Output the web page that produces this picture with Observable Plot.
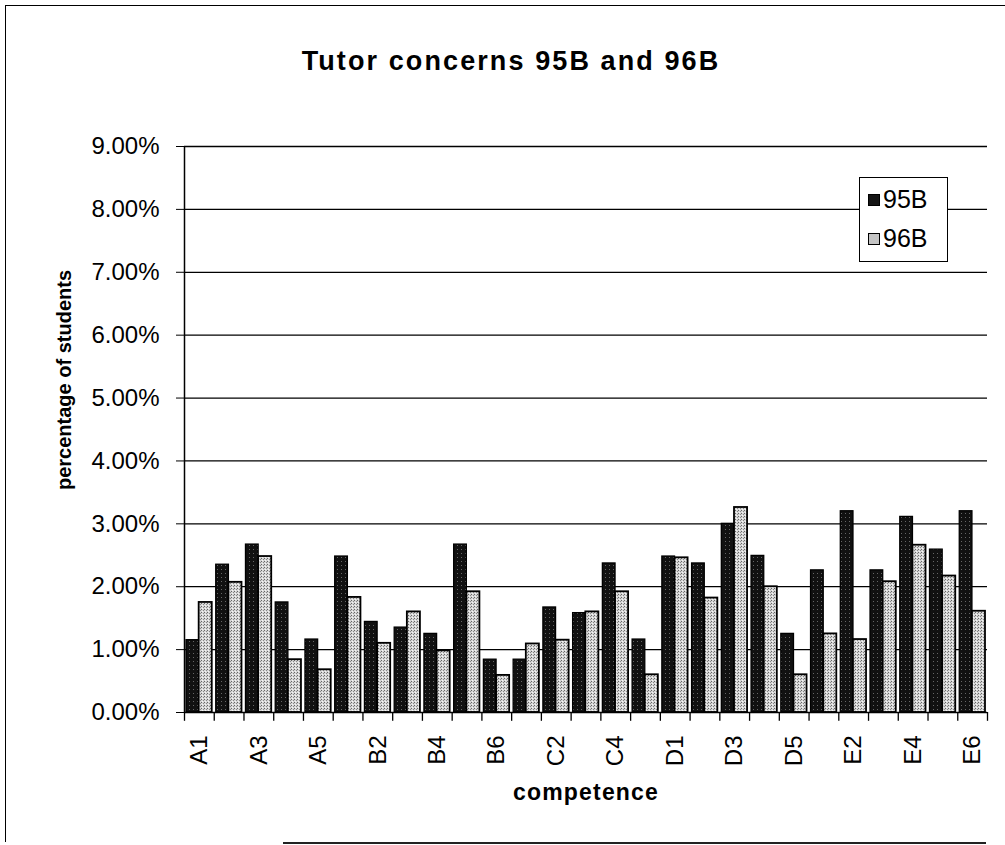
<!DOCTYPE html>
<html>
<head>
<meta charset="utf-8">
<script src="https://cdn.jsdelivr.net/npm/d3@7"></script>
<script src="https://cdn.jsdelivr.net/npm/@observablehq/plot@0.6"></script>
<style>
  html, body { margin: 0; padding: 0; background: #fff; }
  #wrap { position: relative; width: 1005px; height: 845px; overflow: hidden; font-family: "Liberation Sans", Arial, sans-serif; }
  #chart { position: absolute; left: 0; top: 0; }
  .abs { position: absolute; white-space: nowrap; color: #000; }
  #frame { position: absolute; left: 5px; top: 5px; width: 1010px; height: 836px; border-left: 1.5px solid #000; border-top: 1.5px solid #000; }
  #bottomline { position: absolute; left: 283px; top: 842px; width: 703px; height: 0; border-top: 2px solid #222; }
  #title { left: 0; width: 1022px; top: 46px; text-align: center; font-weight: bold; font-size: 27px; letter-spacing: 2.1px; }
  #ylab { left: 64px; top: 380px; transform: translate(-50%, -50%) rotate(-90deg); font-weight: bold; font-size: 20px; }
  #xlab { left: 586px; top: 779px; transform: translateX(-50%); font-weight: bold; font-size: 23px; letter-spacing: 1.2px; }
  #legend { position: absolute; left: 859px; top: 177px; width: 87px; height: 83px; border: 1.5px solid #000; background: #fff; }
  .lg { position: absolute; left: 8px; font-size: 25px; display: flex; align-items: center; }
  .sw { width: 12px; height: 12px; margin-right: 3px; border: 1px solid #000; box-sizing: border-box; }
</style>
</head>
<body>
<div id="wrap">
  <div id="chart"></div>
  <div id="frame"></div>
  <div id="bottomline"></div>
  <div id="title" class="abs"></div>
  <div id="ylab" class="abs"></div>
  <div id="xlab" class="abs"></div>
  <div id="legend"></div>
</div>
<script>
// ---- data ----
const titleText = "Tutor concerns 95B and 96B";
const yLabel = "percentage of students";
const xLabel = "competence";
const seriesNames = ["95B", "96B"];
const categories = ["A1","A2","A3","A4","A5",
                    "B1","B2","B3","B4","B5","B6",
                    "C1","C2","C3","C4","C5",
                    "D1","D2","D3","D4","D5",
                    "E1","E2","E3","E4","E5","E6"];
const values95B = [1.15, 2.35, 2.67, 1.75, 1.16,
                   2.48, 1.44, 1.35, 1.25, 2.67, 0.84,
                   0.84, 1.67, 1.58, 2.37, 1.16,
                   2.48, 2.37, 3.00, 2.49, 1.25,
                   2.26, 3.20, 2.26, 3.11, 2.59, 3.20];
const values96B = [1.75, 2.07, 2.48, 0.84, 0.68,
                   1.83, 1.10, 1.60, 0.98, 1.92, 0.59,
                   1.09, 1.15, 1.60, 1.92, 0.60,
                   2.46, 1.82, 3.26, 2.00, 0.60,
                   1.25, 1.16, 2.08, 2.66, 2.17, 1.61];
const xTickLabels = ["A1","A3","A5","B2","B4","B6","C2","C4","D1","D3","D5","E2","E4","E6"];
const yTicks = [0,1,2,3,4,5,6,7,8,9];

// ---- build ----
const rows = categories.map((c, i) => ({cat: c, v95: values95B[i], v96: values96B[i]}));
const W = 1005, H = 845, mL = 184, mR = 18, mT = 146, mB = 133;
const bw = (W - mL - mR) / categories.length;
const half = bw / 2;

const chart = Plot.plot({
  width: W, height: H,
  marginLeft: mL, marginRight: mR, marginTop: mT, marginBottom: mB,
  style: {fontFamily: "'Liberation Sans', Arial, sans-serif", fontSize: "24px", color: "#000", background: "transparent"},
  x: {domain: categories, padding: 0, round: false, axis: null},
  y: {domain: [0, 9], axis: null},
  marks: [
    Plot.ruleY(yTicks.slice(1), {stroke: "#000", strokeWidth: 1.3}),
    Plot.barY(rows, {x: "cat", y: "v95", fill: "url(#pDark)", stroke: "#000", strokeWidth: 1.3, insetLeft: 2, insetRight: half + 0.2}),
    Plot.barY(rows, {x: "cat", y: "v96", fill: "url(#pLight)", stroke: "#000", strokeWidth: 1.8, insetLeft: half - 0.2, insetRight: 2}),
    Plot.ruleY([0], {stroke: "#000", strokeWidth: 1.5}),
    Plot.ruleX([categories[0]], {dx: -half, y1: 0, y2: 9, stroke: "#000", strokeWidth: 1.5}),
    Plot.ruleX(categories, {dx: -half, y1: 0, y2: -0.14, stroke: "#000", strokeWidth: 1.3}),
    Plot.ruleX([categories[categories.length - 1]], {dx: half, y1: 0, y2: -0.14, stroke: "#000", strokeWidth: 1.3}),
    Plot.axisX(xTickLabels, {anchor: "bottom", tickSize: 0, tickPadding: 23, tickRotate: -90, fontSize: 24, label: null}),
    Plot.axisY(yTicks, {anchor: "left", tickSize: 8, tickPadding: 17, fontSize: 24, label: null,
      tickFormat: d => d.toFixed(2) + "%"})
  ]
});

// stipple patterns
const defs = d3.select(chart).insert("defs", ":first-child");
const pd = defs.append("pattern").attr("id", "pDark").attr("patternUnits", "userSpaceOnUse").attr("width", 4).attr("height", 4);
pd.append("rect").attr("width", 4).attr("height", 4).attr("fill", "#111");
pd.append("rect").attr("x", 1).attr("y", 1).attr("width", 1).attr("height", 1).attr("fill", "#666");
const pl = defs.append("pattern").attr("id", "pLight").attr("patternUnits", "userSpaceOnUse").attr("width", 3).attr("height", 3);
pl.append("rect").attr("width", 3).attr("height", 3).attr("fill", "#d6d6d6");
pl.append("rect").attr("x", 0).attr("y", 0).attr("width", 1).attr("height", 1).attr("fill", "#666");
pl.append("rect").attr("x", 2).attr("y", 1).attr("width", 1).attr("height", 1).attr("fill", "#888");
pl.append("rect").attr("x", 1).attr("y", 2).attr("width", 1).attr("height", 1).attr("fill", "#f4f4f4");

document.getElementById("chart").appendChild(chart);
document.getElementById("title").textContent = titleText;
document.getElementById("ylab").textContent = yLabel;
document.getElementById("xlab").textContent = xLabel;

// legend
const legend = document.getElementById("legend");
const swFills = ["#151515", "#c4c4c4"];
seriesNames.forEach((s, i) => {
  const item = document.createElement("div");
  item.className = "lg";
  item.style.top = (i === 0 ? 7 : 46) + "px";
  const sw = document.createElement("div");
  sw.className = "sw";
  sw.style.background = swFills[i];
  const t = document.createElement("span");
  t.textContent = s;
  item.appendChild(sw); item.appendChild(t);
  legend.appendChild(item);
});
</script>
</body>
</html>
